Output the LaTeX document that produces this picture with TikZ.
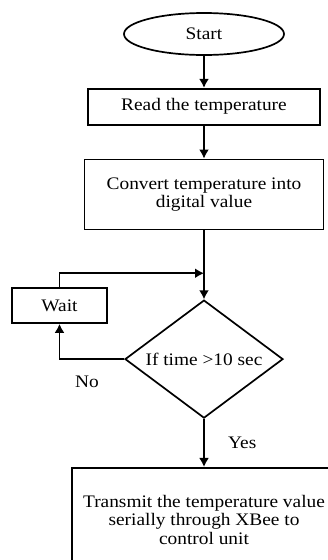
\documentclass[tikz,border=0pt]{standalone}
\usepackage{fontspec}
\setmainfont{Liberation Serif}[FakeStretch=1.1]
\usetikzlibrary{shapes,arrows.meta,positioning}

\tikzset{
  txt/.style={font=\fontsize{17.6}{18.5}\selectfont},
  blk/.style={rectangle,draw=black,line width=1.7pt,align=center,inner sep=0pt,txt},
  term/.style={ellipse,draw=black,line width=1.7pt,inner sep=0pt,minimum width=160pt,minimum height=42pt,txt},
  decide/.style={diamond,draw=black,line width=1.7pt,aspect=1.34,inner sep=0pt,minimum width=158pt,minimum height=118pt,txt},
  flow/.style={-{Latex[length=9pt,width=10pt]},line width=1.7pt}
}

\begin{document}
\begin{tikzpicture}
\useasboundingbox (0,0) rectangle (327pt,-560pt);
% Main column
\node[term] (start) at (204pt,-34pt) {Start};
\node[below=32pt of start, blk, minimum width=232pt, minimum height=36pt] (read) {Read the temperature};
\node[below=33pt of read, blk, minimum width=239pt, minimum height=70pt] (conv) {Convert temperature into\\digital value};
\node[below=69pt of conv, decide] (dec) {If time >10 sec};
\node[below=48pt of dec, blk, minimum width=264pt, minimum height=104pt] (send) {Transmit the temperature value\\serially through XBee to\\control unit};
% Wait loop
\node[blk, minimum width=95pt, minimum height=35pt] (wait) at (59.5pt,-305.5pt) {Wait};
\path (conv.south) -- (dec.north) coordinate[pos=0.623] (join);
% Arrows
\draw[flow] (start.south) -- (read.north);
\draw[flow] (read.south) -- (conv.north);
\draw[flow] (conv.south) -- (dec.north);
\draw[flow] (wait.north) |- (join);
\draw[flow] (dec.west) -| (wait.south);
\draw[flow] (dec.south) -- node[midway, right=20pt, txt] (yes) {Yes} (send.north);
\node[txt] (no) at (87pt,-382pt) {No};
\end{tikzpicture}
\end{document}
